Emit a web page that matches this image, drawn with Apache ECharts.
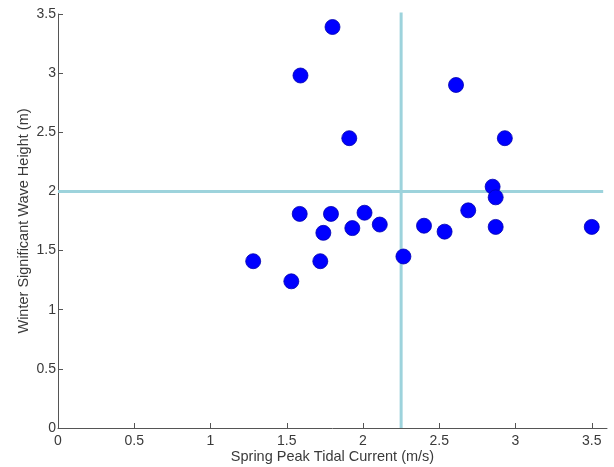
<!DOCTYPE html>
<html>
<head>
<meta charset="utf-8">
<script src="https://cdn.jsdelivr.net/npm/echarts@6/dist/echarts.min.js"></script>
<style>html,body{margin:0;padding:0;background:#fff;}#c{width:614px;height:467px;}</style>
</head>
<body>
<div id="c"></div>
<script>
const tidalCurrent = [1.80, 1.59, 1.91, 2.61, 2.93, 2.85, 2.87, 1.585, 1.79, 2.01, 1.74, 1.93, 2.11, 2.40, 1.28, 1.53, 1.72, 2.265, 2.69, 2.535, 2.87, 3.50];
const waveHeight   = [3.39, 2.98, 2.45, 2.90, 2.45, 2.04, 1.95, 1.81, 1.81, 1.82, 1.65, 1.69, 1.72, 1.71, 1.41, 1.24, 1.41, 1.45, 1.84, 1.66, 1.70, 1.70];
const xTicks = [0, 0.5, 1, 1.5, 2, 2.5, 3, 3.5];
const yTicks = [0, 0.5, 1, 1.5, 2, 2.5, 3, 3.5];
const currentThreshold = 2.25;
const waveThreshold = 2;

const points = tidalCurrent.map((x, i) => [x, waveHeight[i]]);
const lineColor = '#9dd3dc';
const axisColor = '#555';
const textColor = '#3a3a3a';

const chart = echarts.init(document.getElementById('c'));
chart.setOption({
  animation: false,
  backgroundColor: '#fff',
  grid: { left: 58, right: 7, top: 14, bottom: 39, containLabel: false, outerBoundsMode: 'none' },
  xAxis: {
    type: 'value', min: 0, max: 3.6, interval: 0.5,
    name: 'Spring Peak Tidal Current (m/s)', nameLocation: 'middle', nameGap: 21, nameMoveOverlap: false,
    nameTextStyle: { fontFamily: 'Liberation Sans', fontSize: 14.5, color: textColor },
    axisLine: { show: true, onZero: false, lineStyle: { color: axisColor, width: 1 } },
    axisTick: { show: true, inside: true, length: 5, customValues: xTicks, lineStyle: { color: axisColor } },
    axisLabel: { customValues: xTicks, fontFamily: 'Liberation Sans', fontSize: 14, color: textColor, margin: 6,
      formatter: v => String(v) },
    splitLine: { show: false }
  },
  yAxis: {
    type: 'value', min: 0, max: 3.5, interval: 0.5,
    name: 'Winter Significant Wave Height (m)', nameLocation: 'middle', nameGap: 27, nameMoveOverlap: false,
    nameTextStyle: { fontFamily: 'Liberation Sans', fontSize: 14.5, color: textColor },
    axisLine: { show: true, onZero: false, lineStyle: { color: axisColor, width: 1 } },
    axisTick: { show: true, inside: true, length: 5, customValues: yTicks, lineStyle: { color: axisColor } },
    axisLabel: { customValues: yTicks, fontFamily: 'Liberation Sans', fontSize: 14, color: textColor, margin: 2,
      formatter: v => String(v) },
    splitLine: { show: false }
  },
  series: [
    {
      type: 'line', data: [[0, waveThreshold], [3.575, waveThreshold]],
      symbol: 'none', silent: true, z: 1,
      lineStyle: { color: lineColor, width: 3 }
    },
    {
      type: 'line', data: [[currentThreshold, 0], [currentThreshold, 3.52]],
      symbol: 'none', silent: true, z: 1,
      lineStyle: { color: lineColor, width: 3 }
    },
    {
      type: 'scatter', data: points, symbol: 'circle', symbolSize: 15, z: 3,
      itemStyle: { color: '#0000ff', opacity: 1, borderColor: '#0000b0', borderWidth: 0.8 }
    }
  ]
});
</script>
</body>
</html>
